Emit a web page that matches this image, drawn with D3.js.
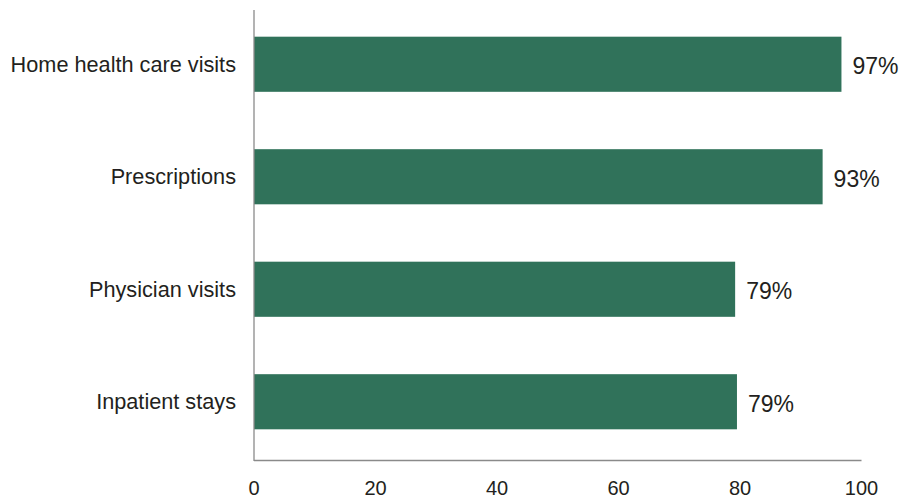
<!DOCTYPE html>
<html>
<head>
<meta charset="utf-8">
<script src="https://cdn.jsdelivr.net/npm/d3@7"></script>
<style>
  html, body { margin: 0; padding: 0; background: #fff; }
  svg { display: block; }
  text { font-family: "Liberation Sans", Arial, Helvetica, sans-serif; fill: #231f20; }
</style>
</head>
<body>
<svg id="chart" width="900" height="499"></svg>
<script>
const categories = ["Home health care visits", "Prescriptions", "Physician visits", "Inpatient stays"];
const values = [96.7, 93.6, 79.2, 79.5];
const valueLabels = ["97%", "93%", "79%", "79%"];
const xTicks = [0, 20, 40, 60, 80, 100];

const svg = d3.select("#chart");
const x = d3.scaleLinear().domain([0, 100]).range([254, 861.5]);
const y = d3.scaleBand().domain(categories).range([8, 458]).paddingInner(0.51).paddingOuter(0.255);

// bars
svg.selectAll("rect.bar").data(categories).enter().append("rect")
  .attr("class", "bar")
  .attr("x", x(0))
  .attr("y", d => y(d))
  .attr("width", (d, i) => x(values[i]) - x(0))
  .attr("height", y.bandwidth())
  .attr("fill", "#30725a");

// axis lines
svg.append("line").attr("x1", x(0)).attr("x2", x(0)).attr("y1", 10).attr("y2", 461)
  .attr("stroke", "#8a8a8a").attr("stroke-width", 1.3);
svg.append("line").attr("x1", x(0)).attr("x2", x(100)).attr("y1", 460.5).attr("y2", 460.5)
  .attr("stroke", "#8a8a8a").attr("stroke-width", 1.3);

// x tick labels
svg.selectAll("text.xt").data(xTicks).enter().append("text")
  .attr("class", "xt")
  .attr("x", d => x(d))
  .attr("y", 495)
  .attr("text-anchor", "middle")
  .style("font-size", "20px")
  .text(d => d);

// category labels
svg.selectAll("text.cat").data(categories).enter().append("text")
  .attr("class", "cat")
  .attr("x", x(0) - 18)
  .attr("y", d => y(d) + y.bandwidth() / 2)
  .attr("dy", "0.35em")
  .attr("text-anchor", "end")
  .style("font-size", "21.7px")
  .text(d => d);

// value labels
svg.selectAll("text.val").data(categories).enter().append("text")
  .attr("class", "val")
  .attr("x", (d, i) => x(values[i]) + 11)
  .attr("y", d => y(d) + y.bandwidth() / 2 + 2)
  .attr("dy", "0.35em")
  .attr("text-anchor", "start")
  .style("font-size", "23px")
  .text((d, i) => valueLabels[i]);
</script>
</body>
</html>
